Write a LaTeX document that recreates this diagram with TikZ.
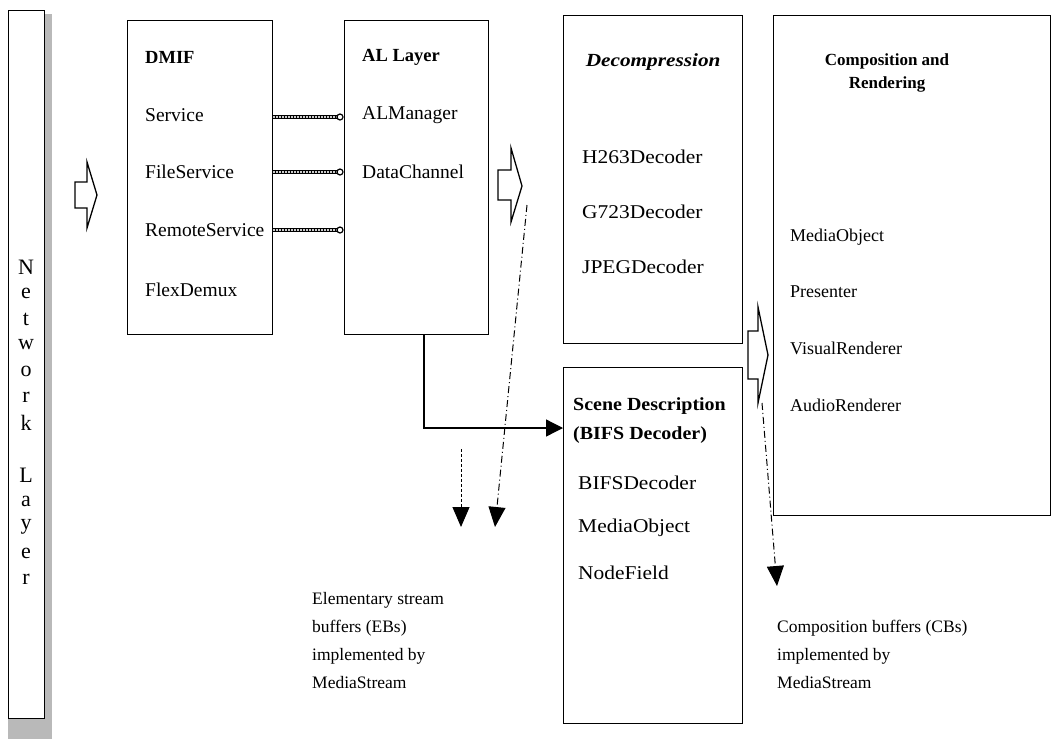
\documentclass[tikz,border=0pt]{standalone}
\usepackage{fontspec}
\setmainfont{Liberation Serif}
\usetikzlibrary{arrows.meta}
\begin{document}
\begin{tikzpicture}[x=1pt,y=-1pt,
  box/.style={draw, line width=1.3pt, anchor=north west, inner sep=0pt},
  lbl/.style={anchor=west, inner sep=0pt, font=\fontsize{19.5}{20}\selectfont},
  lblr/.style={anchor=west, inner sep=0pt, font=\fontsize{18}{20}\selectfont},
  hd/.style={anchor=west, inner sep=0pt, font=\fontsize{18.5}{20}\selectfont\bfseries},
  hollow/.style={draw, line width=1.3pt, fill=white, line join=miter},
  link/.style={line width=4.5pt, draw=black},
  linkin/.style={line width=1.6pt, draw=gray!40, dash pattern=on 1.5pt off 1.5pt},
  conn/.style={line width=1.3pt, -{Triangle[length=17pt,width=17pt]}},
  dconn/.style={line width=1pt, dash pattern=on 7pt off 3pt on 1pt off 3pt, -{Triangle[length=20pt,width=17pt]}},
  dconnb/.style={line width=1pt, dash pattern=on 3pt off 2pt, -{Triangle[length=20pt,width=17pt]}},
  note/.style={anchor=north west, inner sep=0pt, align=left, font=\fontsize{17.5}{28}\selectfont}]
\useasboundingbox (0,0) rectangle (1060,739);
% network layer bar
\fill[gray!55] (44,14) rectangle (52,739);
\fill[gray!55] (8,718) rectangle (52,739);
\node[box, fill=white, minimum width=36pt, minimum height=708pt] (net) at (8,10) {};
\foreach \ch [count=\i] in {N,e,t,w,o,r,k,{},L,a,y,e,r}
  \node[inner sep=0pt, font=\fontsize{22}{24}\selectfont] (netl\i) at (26,{241+26*\i}) {\ch};
% hollow arrow 1
\draw[hollow] (75,182) -- (87,182) -- (87,162) -- (97,195) -- (87,228) -- (87,208) -- (75,208) -- cycle;
% DMIF
\node[box, minimum width=145pt, minimum height=314pt] (dmif) at (127,20) {};
\node[hd] (dmift) at (145,57) {DMIF};
\node[lbl] (svc) at (145,115) {Service};
\node[lbl] (fsvc) at (145,172) {FileService};
\node[lbl] (rsvc) at (145,230) {RemoteService};
\node[lbl] (flex) at (145,290) {FlexDemux};
% AL layer
\node[box, minimum width=144pt, minimum height=314pt] (al) at (344,20) {};
\node[hd] (alt) at (362,57) {AL Layer};
\node[lbl] (alm) at (362,115) {ALManager};
\node[lbl] (dch) at (362,172) {DataChannel};
% links
\foreach \y/\n in {117/1,172/2,230/3}{
  \coordinate (ls\n) at (dmif.east |- 0,\y);
  \coordinate (le\n) at ([xshift=-4pt]al.west |- 0,\y);
  \draw[link] (ls\n) -- (le\n);
  \draw[linkin] (ls\n) -- (le\n);
  \draw[line width=1.2pt, fill=white] (le\n) circle (3pt);
}
% hollow arrow 2
\draw[hollow] (498,170) -- (511,170) -- (511,148) -- (522,186) -- (511,222) -- (511,200) -- (498,200) -- cycle;
% Decompression
\node[box, minimum width=179pt, minimum height=328pt] (dec) at (563,15) {};
\node[anchor=center, inner sep=0pt, font=\fontsize{18.5}{20}\selectfont\bfseries\itshape] (dect) at (dec.north |- 0,62) {\scalebox{1.15}[1]{Decompression}};
\node[lbl] (h263) at (582,157) {\scalebox{1.1}[1]{H263Decoder}};
\node[lbl] (g723) at (582,212) {\scalebox{1.1}[1]{G723Decoder}};
\node[lbl] (jpeg) at (582,267) {\scalebox{1.1}[1]{JPEGDecoder}};
% Scene description
\node[box, minimum width=179pt, minimum height=356pt] (scene) at (563,367) {};
\node[hd] (sct1) at (573,406) {\scalebox{1.08}[1]{Scene Description}};
\node[hd] (sct2) at (573,435) {\scalebox{1.08}[1]{(BIFS Decoder)}};
\node[lbl] (bifs) at (578,483) {\scalebox{1.1}[1]{BIFSDecoder}};
\node[lbl] (mobj) at (578,528) {\scalebox{1.1}[1]{MediaObject}};
\node[lbl] (nfld) at (578,573) {\scalebox{1.1}[1]{NodeField}};
% Composition
\node[box, minimum width=277pt, minimum height=500pt] (comp) at (773,15) {};
\node[inner sep=0pt, align=center, font=\fontsize{17}{23}\selectfont\bfseries] (compt) at (887,73) {Composition and\\Rendering};
\node[lblr] (cmo) at (790,237) {MediaObject};
\node[lblr] (pres) at (790,292) {Presenter};
\node[lblr] (vis) at (790,348) {VisualRenderer};
\node[lblr] (aud) at (790,405) {AudioRenderer};
% hollow arrow 3
\draw[hollow] (748,331) -- (758,331) -- (758,307) -- (768,355) -- (758,403) -- (758,379) -- (748,379) -- cycle;
% AL -> Scene
\draw[conn] (al.south -| 424,0) |- ([yshift=-61pt]scene.north west);
% EB arrows
\coordinate (eb1s) at (461,449);
\coordinate (eb1e) at (461,527);
\draw[dconnb] (eb1s) -- (eb1e);
\coordinate (eb2s) at (527,205);
\coordinate (eb2e) at (495,527);
\draw[dconn] (eb2s) -- (eb2e);
\coordinate (cbs) at (762,403);
\coordinate (cbe) at (777,586);
\draw[dconn] (cbs) -- (cbe);
% notes
\node[note] (ebn) at (312,592) {Elementary stream\\buffers (EBs)\\implemented by\\MediaStream};
\node[note] (cbn) at (777,620) {Composition buffers (CBs)\\implemented by\\MediaStream};
\end{tikzpicture}
\end{document}
